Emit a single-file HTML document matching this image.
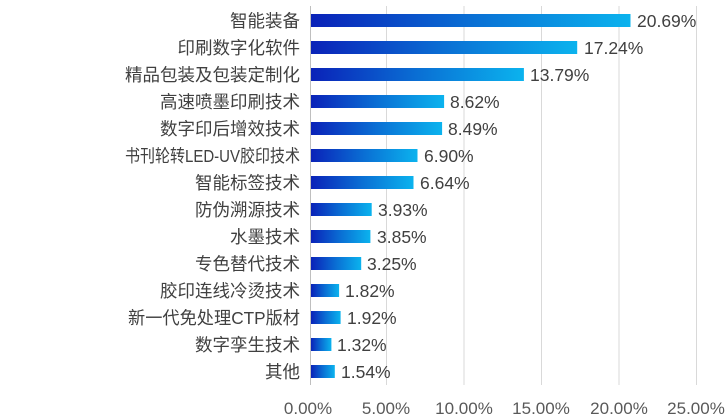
<!DOCTYPE html>
<html><head><meta charset="utf-8"><style>
body{margin:0;background:#fff;}
svg{display:block;font-family:"Liberation Sans","Noto Sans CJK SC",sans-serif;}
</style></head><body>
<svg width="727" height="418" viewBox="0 0 727 418">
<defs><linearGradient id="g" x1="0" x2="1" y1="0" y2="0">
<stop offset="0" stop-color="#0a22b8"/><stop offset="0.5" stop-color="#0a6fd4"/><stop offset="1" stop-color="#0bb3ee"/></linearGradient></defs>
<g stroke="#d9d9d9" stroke-width="1">
<line x1="386.5" y1="6" x2="386.5" y2="385"/><line x1="464" y1="6" x2="464" y2="385"/>
<line x1="541.5" y1="6" x2="541.5" y2="385"/><line x1="619" y1="6" x2="619" y2="385"/>
<line x1="696.5" y1="6" x2="696.5" y2="385"/></g>
<line x1="310.5" y1="6" x2="310.5" y2="385" stroke="#bfbfbf"/>
<g fill="url(#g)">
<rect x="311" y="14" width="319.5" height="13"/>
<rect x="311" y="41" width="266.2" height="13"/>
<rect x="311" y="68" width="212.9" height="13"/>
<rect x="311" y="95" width="133.1" height="13"/>
<rect x="311" y="122" width="131.1" height="13"/>
<rect x="311" y="149" width="106.5" height="13"/>
<rect x="311" y="176" width="102.5" height="13"/>
<rect x="311" y="203" width="60.7" height="13"/>
<rect x="311" y="230" width="59.4" height="13"/>
<rect x="311" y="257" width="50.2" height="13"/>
<rect x="311" y="284" width="28.1" height="13"/>
<rect x="311" y="311" width="29.6" height="13"/>
<rect x="311" y="338" width="20.4" height="13"/>
<rect x="311" y="365" width="23.8" height="13"/>
</g>
<g font-size="17.5" fill="#404040" text-anchor="end">
<text x="300" y="27">智能装备</text>
<text x="300" y="54">印刷数字化软件</text>
<text x="300" y="81">精品包装及包装定制化</text>
<text x="300" y="108">高速喷墨印刷技术</text>
<text x="300" y="135">数字印后增效技术</text>
<text x="125" y="162" text-anchor="start" textLength="175" lengthAdjust="spacingAndGlyphs">书刊轮转LED-UV胶印技术</text>
<text x="300" y="189">智能标签技术</text>
<text x="300" y="216">防伪溯源技术</text>
<text x="300" y="243">水墨技术</text>
<text x="300" y="270">专色替代技术</text>
<text x="300" y="297">胶印连线冷烫技术</text>
<text x="128" y="324" text-anchor="start" textLength="172" lengthAdjust="spacingAndGlyphs">新一代免处理CTP版材</text>
<text x="300" y="351">数字孪生技术</text>
<text x="300" y="378">其他</text>
</g>
<g font-size="17.5" fill="#404040">
<text x="637" y="27">20.69%</text>
<text x="584" y="54">17.24%</text>
<text x="530" y="81">13.79%</text>
<text x="450" y="108">8.62%</text>
<text x="448" y="135">8.49%</text>
<text x="424" y="162">6.90%</text>
<text x="420" y="189">6.64%</text>
<text x="378" y="216">3.93%</text>
<text x="377" y="243">3.85%</text>
<text x="367" y="270">3.25%</text>
<text x="345" y="297">1.82%</text>
<text x="347" y="324">1.92%</text>
<text x="337" y="351">1.32%</text>
<text x="341" y="378">1.54%</text>
</g>
<g font-size="17" fill="#595959" text-anchor="middle">
<text x="308" y="414">0.00%</text><text x="386" y="414">5.00%</text><text x="464" y="414">10.00%</text>
<text x="541" y="414">15.00%</text><text x="619" y="414">20.00%</text><text x="696" y="414">25.00%</text></g>
</svg></body></html>
